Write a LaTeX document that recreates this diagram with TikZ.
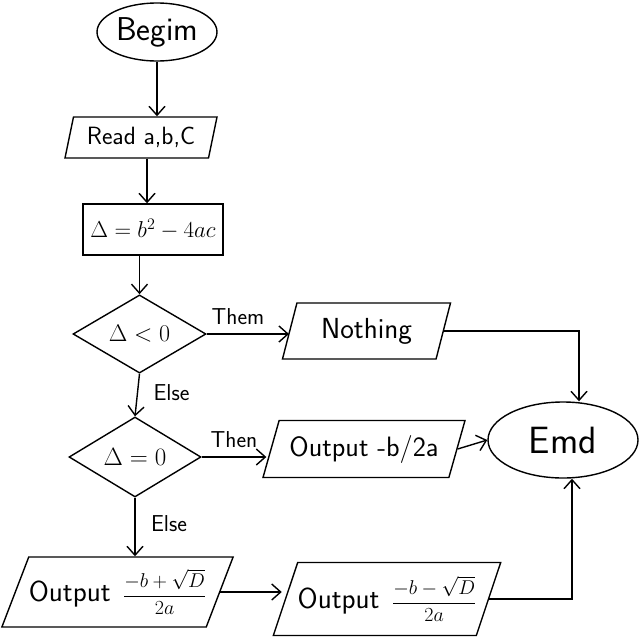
\RequirePackage{fix-cm}
\documentclass[tikz,border=0pt]{standalone}
\usepackage{amsmath}
\usetikzlibrary{shapes.geometric,arrows.meta,calc}
\begin{document}
\begin{tikzpicture}[x=1pt,y=-1pt,
  base/.style={draw, line width=1.4pt, inner sep=0pt, font=\sffamily\fontsize{20}{24}\selectfont},
  term/.style={base, ellipse},
  proc/.style={base, rectangle},
  dec/.style={base, diamond},
  para/.style={base, trapezium, trapezium stretches body},
  conn/.style={line width=1.4pt},
  arr/.style={conn, -{Straight Barb[length=9pt,width=16pt]}},
  lbl/.style={font=\sffamily\fontsize{23}{27}\selectfont}
]
\useasboundingbox (0,0) rectangle (640,640);

\node[term, minimum width=120, minimum height=58, font=\sffamily\fontsize{33}{38}\selectfont] (begin) at (157,32) {Begim};
\node[para, trapezium left angle=67.5, trapezium right angle=112.5, minimum width=152, minimum height=41, font=\sffamily\fontsize{25}{29}\selectfont] (read) at (141,137.5) {Read a,b,C};
\node[proc, minimum width=140, minimum height=51, font=\sffamily\fontsize{23}{27}\selectfont] (delta) at (153,229.5) {$\Delta = b^2 - 4ac$};
\node[dec, minimum width=133, minimum height=78, font=\sffamily\fontsize{24}{28}\selectfont] (d1) at (139.5,334) {$\Delta < 0$};
\node[para, trapezium left angle=61, trapezium right angle=119, minimum width=168, minimum height=56, font=\sffamily\fontsize{29}{33}\selectfont] (nothing) at (366.5,331) {Nothing};
\node[dec, minimum width=132, minimum height=80, font=\sffamily\fontsize{25}{29}\selectfont] (d2) at (135,457) {$\Delta = 0$};
\node[para, trapezium left angle=60, trapezium right angle=120, minimum width=202, minimum height=57, font=\sffamily\fontsize{28}{32}\selectfont] (out0) at (364,449) {Output -b/2a};
\node[term, minimum width=150, minimum height=76, font=\sffamily\fontsize{38}{42}\selectfont] (end) at (563,440) {Emd};
\node[para, trapezium left angle=59.6, trapezium right angle=120.4, minimum width=223, minimum height=70, font=\sffamily\fontsize{20}{24}\selectfont] (out1) at (117.5,592) {{\fontsize{29}{33}\selectfont Output}\ \ $\dfrac{-b+\sqrt{D}}{2a}$};
\node[para, trapezium left angle=62, trapezium right angle=118, minimum width=210, minimum height=73, font=\sffamily\fontsize{20}{24}\selectfont] (out2) at (387,599) {{\fontsize{29}{33}\selectfont Output}\ \ $\dfrac{-b-\sqrt{D}}{2a}$};

\draw[arr] (begin.south) -- (begin.south |- read.north);
\draw[arr] ([xshift=6pt]read.south) -- ([xshift=6pt]read.south |- delta.north);
\draw[arr] (d1.north |- delta.south) -- (d1.north);
\draw[arr] (d1.east) -- node[lbl, above=5pt, pos=0.38] {Them} (d1.east -| nothing.west);
\draw[arr] (nothing.east) -| ([xshift=16pt]end.north);
\draw[arr] (d1.south) -- node[lbl, right=12pt, pos=0.45] {Else} (d2.north);
\draw[arr] (d2.east) -- node[lbl, above=5pt, pos=0.5] {Then} ([xshift=-4pt]d2.east -| out0.west);
\draw[arr] (out0.east) -- (end.west);
\draw[arr] (d2.south) -- node[lbl, right=12pt, pos=0.45] {Else} (d2.south |- out1.north);
\draw[arr] (out1.east) -- ([xshift=-3pt]out1.east -| out2.west);
\draw[arr] (out2.east) -| ([xshift=9pt]end.south);
\end{tikzpicture}
\end{document}
